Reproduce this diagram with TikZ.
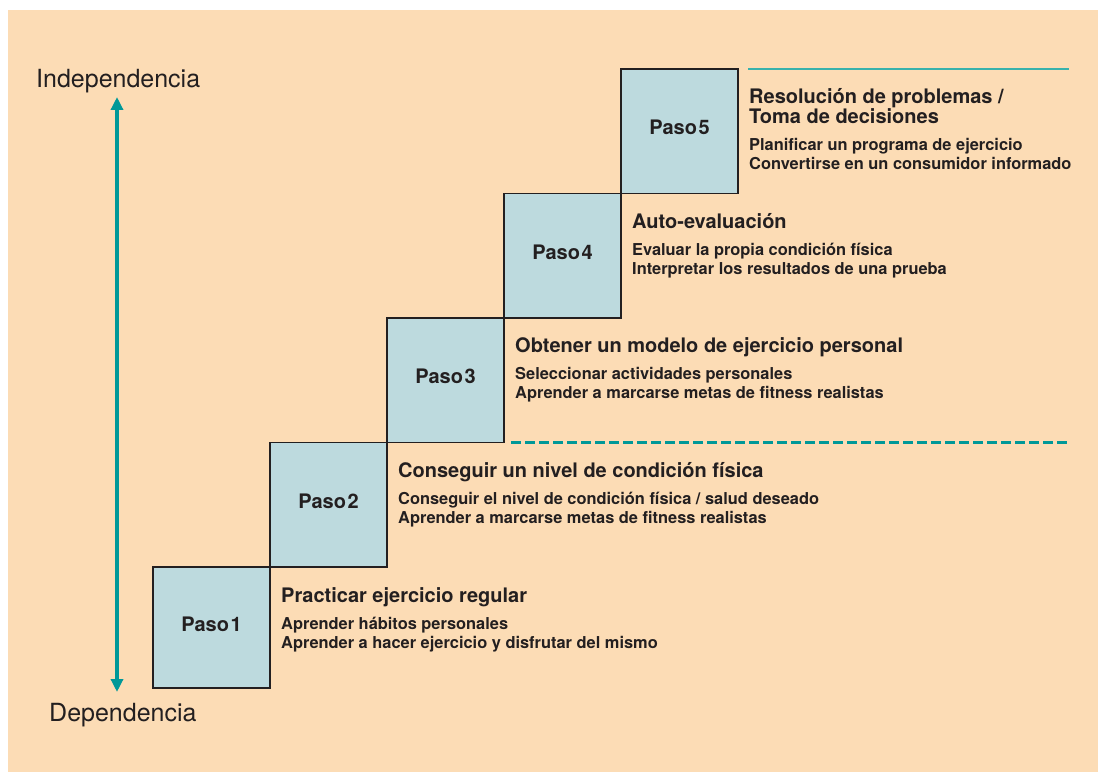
\documentclass[tikz,border=0pt]{standalone}
\usepackage{fontspec}
\setmainfont{TeX Gyre Heros}
\usetikzlibrary{arrows.meta,positioning}
\definecolor{peach}{RGB}{252,220,181}
\definecolor{stepblue}{RGB}{189,218,222}
\definecolor{tealdark}{RGB}{0,152,152}
\definecolor{teallight}{RGB}{56,178,172}
\definecolor{ink}{RGB}{35,31,32}
\tikzset{paso/.style={draw=ink, line width=1.2pt, fill=stepblue,
  minimum width=117pt, minimum height=124.5pt, outer sep=0pt, inner sep=0pt,
  text height=14pt, text depth=7pt, text=ink,
  font=\fontsize{20}{22}\selectfont\bfseries}}
\tikzset{titulo/.style={anchor=base west, inner sep=0pt, align=left, text=ink,
  font=\fontsize{20}{19.4}\selectfont\bfseries}}
\tikzset{detalle/.style={anchor=base west, inner sep=0pt, align=left, text=ink,
  font=\fontsize{16.4}{19}\selectfont\bfseries}}
\tikzset{polo/.style={anchor=base west, inner sep=0pt, text=ink,
  font=\fontsize{25}{30}\selectfont}}
\tikzset{eje/.style={tealdark, line width=4.5pt,
  {Triangle[width=12pt,length=13pt]}-{Triangle[width=12pt,length=13pt]}}}

\begin{document}
\begin{tikzpicture}[x=1pt,y=1pt]
\useasboundingbox (0,0) rectangle (1098,772);
\fill[peach] (8,0) rectangle (1098,762);

% escalera
\node[paso, minimum height=121pt, anchor=north west] (p1) at (153,205) {Paso\kern1.5pt1};
\foreach \i [count=\j from 2] in {1,...,4}{
  \node[paso, anchor=south west] (p\j) at (p\i.north east) {Paso\kern1.5pt\j};
}

% textos de cada paso (base = ultima linea)
\foreach \n/\tit/\sub/\ty in {
  1/{Practicar ejercicio regular}/{Aprender hábitos personales\\Aprender a hacer ejercicio y disfrutar del mismo}/35,
  2/{Conseguir un nivel de condición física}/{Conseguir el nivel de condición física / salud deseado\\Aprender a marcarse metas de fitness realistas}/35,
  3/{Obtener un modelo de ejercicio personal}/{Seleccionar actividades personales\\Aprender a marcarse metas de fitness realistas}/35,
  4/{Auto-evaluación}/{Evaluar la propia condición física\\Interpretar los resultados de una prueba}/35,
  5/{Resolución de problemas /\\Toma de decisiones}/{Planificar un programa de ejercicio\\Convertirse en un consumidor informado}/54.4}{
  \node[titulo] (t\n) at ([shift={(11,-\ty)}]p\n.north east) {\tit};
  \node[detalle] (s\n) at ([yshift=-46]t\n.base west) {\sub};
}

% lineas
\coordinate (r5) at ([xshift=10]p5.north east);
\coordinate (r3) at ([xshift=7]p3.south east);
\draw[teallight, line width=1.5pt] (r5) -- ++(321,0);
\draw[tealdark, line width=2.5pt, dash pattern=on 10pt off 4pt] (r3) -- ++(557,0);

% eje
\node[polo] (indep) at (36,684) {Independencia};
\node[polo] (dep) at (49,50.3) {Dependencia};
\coordinate (ftop) at (117,675);
\coordinate (fbot) at (117,80);
\draw[eje] (fbot) -- (ftop);

\end{tikzpicture}
\end{document}
